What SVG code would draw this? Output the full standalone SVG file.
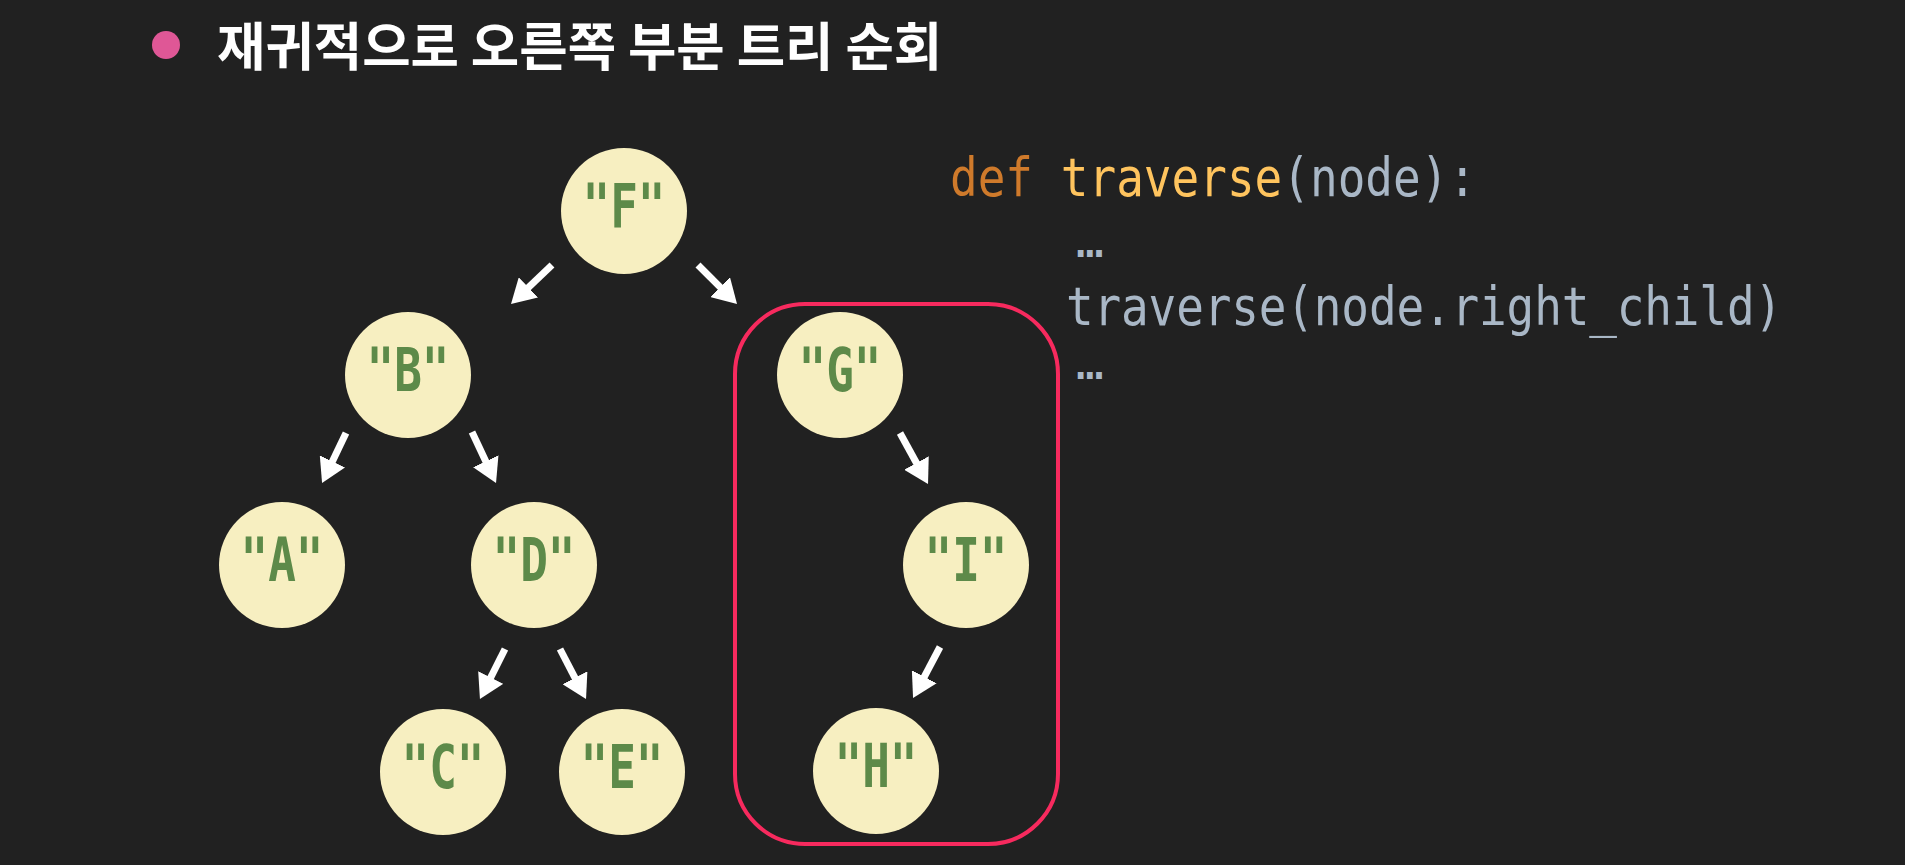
<svg xmlns="http://www.w3.org/2000/svg" width="1905" height="865" viewBox="0 0 1905 865">
<defs>
<style>
.node circle{fill:#f7efc1;}
.node text{font-family:"DejaVu Sans Mono","Liberation Mono",monospace;font-weight:bold;font-size:46px;fill:#5d8a49;text-anchor:middle;}
.code{font-family:"DejaVu Sans Mono","Liberation Mono",monospace;font-size:46px;fill:#a9b7c6;}
.kw{fill:#cf7a2b;}
.fn{fill:#ffc45e;}
.edge{stroke:#ffffff;stroke-width:7;fill:none;marker-end:url(#ah);}
</style>
<marker id="ah" markerUnits="userSpaceOnUse" viewBox="0 0 24 28" markerWidth="24" markerHeight="28" refX="4" refY="14" orient="auto">
<path d="M0,0 L24,14 L0,28 z" fill="#ffffff"/>
</marker>
</defs>
<rect x="0" y="0" width="1905" height="865" fill="#212121"/>

<g id="title">
<circle cx="166" cy="45" r="14" fill="#df5796"/>
<text x="217" y="66" font-family="'Noto Sans CJK KR','Noto Sans',sans-serif" font-weight="bold" font-size="52.6" fill="#ffffff">재귀적으로 오른쪽 부분 트리 순회</text>
</g>

<g id="highlight">
<rect x="735" y="304" width="323" height="540" rx="70" ry="70" fill="none" stroke="#f72a5e" stroke-width="4"/>
</g>

<g id="connectors">
<line class="edge" x1="552" y1="265" x2="525.5" y2="290.2"/>
<line class="edge" x1="698" y1="265" x2="722.9" y2="289.9"/>
<line class="edge" x1="346" y1="433" x2="330.7" y2="465"/>
<line class="edge" x1="472" y1="432" x2="487.5" y2="464.9"/>
<line class="edge" x1="900" y1="433" x2="918.4" y2="466.5"/>
<line class="edge" x1="940" y1="647" x2="922.4" y2="680.3"/>
<line class="edge" x1="505" y1="649" x2="488.9" y2="681.1"/>
<line class="edge" x1="560" y1="649" x2="576.8" y2="681.3"/>
</g>

<g id="node-F" class="node"><circle cx="624" cy="211" r="63"/><text transform="translate(624,227) scale(1,1.3)">"F"</text></g>
<g id="node-B" class="node"><circle cx="408" cy="375" r="63"/><text transform="translate(408,391) scale(1,1.3)">"B"</text></g>
<g id="node-G" class="node"><circle cx="840" cy="375" r="63"/><text transform="translate(840,391) scale(1,1.3)">"G"</text></g>
<g id="node-A" class="node"><circle cx="282" cy="565" r="63"/><text transform="translate(282,581) scale(1,1.3)">"A"</text></g>
<g id="node-D" class="node"><circle cx="534" cy="565" r="63"/><text transform="translate(534,581) scale(1,1.3)">"D"</text></g>
<g id="node-I" class="node"><circle cx="966" cy="565" r="63"/><text transform="translate(966,581) scale(1,1.3)">"I"</text></g>
<g id="node-C" class="node"><circle cx="443" cy="772" r="63"/><text transform="translate(443,788) scale(1,1.3)">"C"</text></g>
<g id="node-E" class="node"><circle cx="622" cy="772" r="63"/><text transform="translate(622,788) scale(1,1.3)">"E"</text></g>
<g id="node-H" class="node"><circle cx="876" cy="771" r="63"/><text transform="translate(876,787) scale(1,1.3)">"H"</text></g>

<g id="code">
<text class="code" transform="translate(950,196) scale(1,1.14)"><tspan class="kw">def</tspan><tspan class="fn"> traverse</tspan>(node):</text>
<text class="code" x="1076" y="257">…</text>
<text class="code" transform="translate(1066,325) scale(1,1.14)" letter-spacing="-0.15">traverse(node.right_child)</text>
<text class="code" x="1076" y="379">…</text>
</g>
</svg>
